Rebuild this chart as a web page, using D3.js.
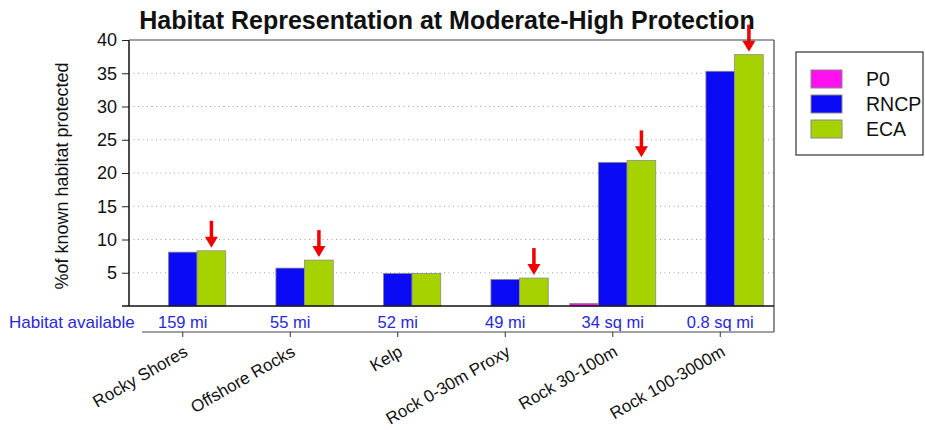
<!DOCTYPE html>
<html><head><meta charset="utf-8">
<script src="https://cdn.jsdelivr.net/npm/d3@7"></script>
<style>body{margin:0;background:#fff}svg{display:block;font-family:Arial,"Liberation Sans",sans-serif}</style>
</head><body><svg id="c" width="925" height="430"></svg>
<script>
const categories = ["Rocky Shores","Offshore Rocks","Kelp","Rock 0-30m Proxy","Rock 30-100m","Rock 100-3000m"];
const habitatAvailable = ["159 mi","55 mi","52 mi","49 mi","34 sq mi","0.8 sq mi"];
const seriesNames = ["P0","RNCP","ECA"];
const p0Values = [0,0,0,0,0.4,0];
const rncpValues = [8.1,5.7,4.9,4.0,21.6,35.3];
const ecaValues = [8.3,6.9,4.9,4.2,21.9,37.8];
const arrowFlags = [true,true,false,true,true,true];
const yTicks = [5,10,15,20,25,30,35,40];
const colors = ["#ff10ee","#0a0af5","#a6d300"];

const svg = d3.select("#c");
const L=129,R=774,T=40,B=306;
const x = d3.scaleBand().domain(categories).range([L,R]).paddingInner(0).paddingOuter(0);
const y = d3.scaleLinear().domain([0,40]).range([B,T]);
const groupW = x.bandwidth()*0.8;
const xs = d3.scaleBand().domain(seriesNames).range([0,groupW]);
const off = (x.bandwidth()-groupW)/2;

// gridlines
svg.append("g").selectAll("line").data(yTicks.filter(d=>d<40)).join("line")
  .attr("x1",L).attr("x2",R).attr("y1",d=>y(d)).attr("y2",d=>y(d))
  .attr("stroke","#a0a0a0").attr("stroke-dasharray","1,3.5").attr("stroke-width",1);

// bars
const series = [p0Values,rncpValues,ecaValues];
series.forEach((vals,si)=>{
  svg.append("g").selectAll("rect").data(categories).join("rect")
    .attr("x",(c)=>x(c)+off+xs(seriesNames[si]))
    .attr("width",xs.bandwidth())
    .attr("y",(c,i)=>y(vals[i]))
    .attr("height",(c,i)=>B-y(vals[i]))
    .attr("fill",colors[si])
    .attr("stroke",(c,i)=>vals[i]>0?"#8a8a8a":"none").attr("stroke-width",0.8);
});

// arrows
const ag = svg.append("g");
categories.forEach((c,i)=>{
  if(!arrowFlags[i]) return;
  const cx = x(c)+off+xs("ECA")+xs.bandwidth()/2;
  const tip = y(ecaValues[i])-3;
  ag.append("line").attr("x1",cx).attr("x2",cx).attr("y1",tip-27).attr("y2",tip-8)
    .attr("stroke","#f00000").attr("stroke-width",3.5);
  ag.append("path").attr("d",`M${cx-6.5},${tip-11}L${cx+6.5},${tip-11}L${cx},${tip}Z`).attr("fill","#f00000");
});

// y axis
const yAxis = d3.axisLeft(y).tickValues(yTicks).tickSize(7).tickPadding(5).tickFormat(d3.format("d"));
const ya = svg.append("g").attr("transform",`translate(${L},0)`).call(yAxis);
ya.select(".domain").remove();
ya.selectAll(".tick line").attr("stroke","#222");
ya.selectAll("text").attr("font-size",18).attr("fill","#111").attr("font-family","Arial, 'Liberation Sans', sans-serif");

// frame
svg.append("line").attr("x1",L).attr("x2",L).attr("y1",T).attr("y2",B).attr("stroke","#111").attr("stroke-width",1.5);
svg.append("line").attr("x1",L).attr("x2",R).attr("y1",T).attr("y2",T).attr("stroke","#444").attr("stroke-width",1.2);
svg.append("line").attr("x1",R).attr("x2",R).attr("y1",T).attr("y2",332).attr("stroke","#444").attr("stroke-width",1.2);
svg.append("line").attr("x1",122).attr("x2",R).attr("y1",B).attr("y2",B).attr("stroke","#111").attr("stroke-width",1.5);
svg.append("line").attr("x1",142).attr("x2",R).attr("y1",332).attr("y2",332).attr("stroke","#444").attr("stroke-width",1.2);

// habitat available row
const hc = "#2828d8";
svg.append("text").attr("x",9).attr("y",328).attr("font-size",17).attr("fill",hc).text("Habitat available");
svg.append("g").selectAll("text").data(categories).join("text")
  .attr("x",c=>x(c)+x.bandwidth()/2).attr("y",328).attr("text-anchor","middle")
  .attr("font-size",16.5).attr("fill",hc).text((c,i)=>habitatAvailable[i]);

// x axis (category labels)
const xAxis = d3.axisBottom(x).tickSize(5).tickSizeOuter(0);
const xa = svg.append("g").attr("transform","translate(0,332)").call(xAxis);
xa.select(".domain").remove();
xa.selectAll(".tick line").attr("stroke","#333");
xa.selectAll("text").attr("font-size",17).attr("fill","#111")
  .attr("font-family","Arial, 'Liberation Sans', sans-serif")
  .attr("text-anchor","end").attr("dy",0).attr("y",0)
  .attr("transform","translate(6,23) rotate(-30)");

// y title
svg.append("text").attr("transform","translate(68,176) rotate(-90)").attr("text-anchor","middle")
  .attr("font-size",18).attr("fill","#111").text("%of known habitat protected");

// title
svg.append("text").attr("x",447).attr("y",29).attr("text-anchor","middle")
  .attr("font-size",25).attr("font-weight","bold").attr("fill","#111")
  .text("Habitat Representation at Moderate-High Protection");

// legend
svg.append("rect").attr("x",796).attr("y",52).attr("width",127).attr("height",103)
  .attr("fill","#fff").attr("stroke","#333").attr("stroke-width",1.2);
const lg = svg.append("g").selectAll("g").data(seriesNames).join("g")
  .attr("transform",(d,i)=>`translate(811,${70+i*25})`);
lg.append("rect").attr("width",31).attr("height",18).attr("fill",(d,i)=>colors[i]).attr("stroke","#8a8a8a");
lg.append("text").attr("x",55).attr("y",16).attr("font-size",19.5).attr("fill","#111").text(d=>d);
</script></body></html>
